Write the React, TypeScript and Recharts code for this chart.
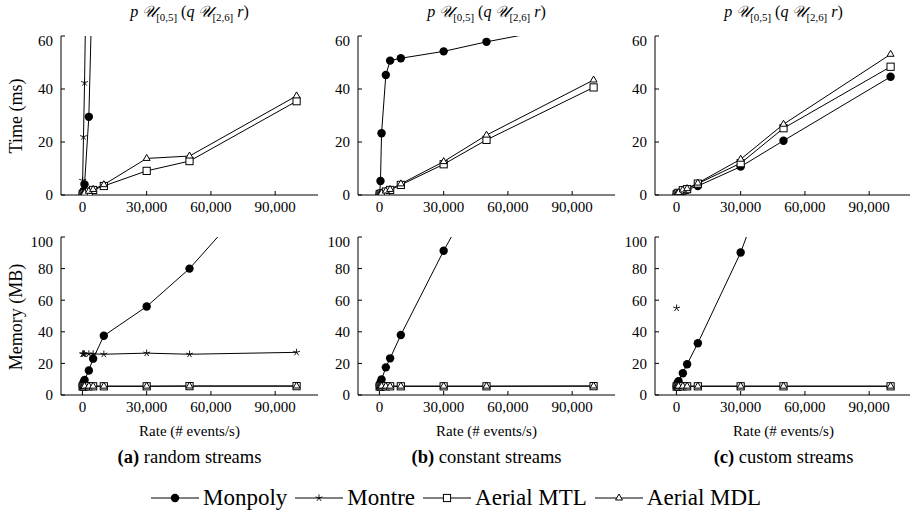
import React from "react";
import { Line, LineChart, XAxis, YAxis } from "recharts";

const rates = [100, 500, 1000, 3000, 5000, 10000, 30000, 50000, 100000];
const rateTicks = [0, 30000, 60000, 90000];
const timeTicks = [0, 20, 40, 60];
const memoryTicks = [0, 20, 40, 60, 80, 100];

// time (ms)
const monpolyTimeRandom = [0.3, 1.5, 4, 29.5, 92, 190, 560, 930, 1850];
const montreTimeRandom = [5.5, 22, 42.4, 150, 260, 520, 1500, 2600, 5200];
const mtlTimeRandom = [0.2, 0.4, 0.6, 1.2, 1.9, 3.4, 9.1, 12.8, 35.4];
const mdlTimeRandom = [0.2, 0.5, 0.7, 1.4, 2.1, 3.9, 13.8, 14.7, 37.4];

const monpolyTimeConstant = [0.4, 5.3, 23.3, 45.3, 50.7, 51.6, 54.2, 57.8, 65.5];
const mtlTimeConstant = [0.2, 0.4, 0.6, 1.3, 1.9, 3.8, 11.6, 20.8, 40.6];
const mdlTimeConstant = [0.2, 0.5, 0.7, 1.5, 2.1, 4.2, 12.6, 22.6, 43.4];

const monpolyTimeCustom = [0.2, 0.4, 0.7, 1.4, 2.0, 3.4, 10.7, 20.5, 44.6];
const mtlTimeCustom = [0.2, 0.5, 0.8, 1.8, 2.2, 4.3, 12.0, 25.2, 48.4];
const mdlTimeCustom = [0.2, 0.6, 0.9, 1.9, 2.4, 4.5, 13.5, 26.7, 53.1];

// memory (MB)
const monpolyMemRandom = [6, 8, 9.5, 15.5, 23, 37.5, 56, 80, 156];
const montreMemRandom = [26, 26, 26, 26, 26, 25.8, 26.5, 25.8, 27];
const mtlMemRandom = [5.4, 5.4, 5.5, 5.5, 5.5, 5.5, 5.5, 5.6, 5.6];
const mdlMemRandom = [5.5, 5.5, 5.6, 5.6, 5.6, 5.6, 5.6, 5.7, 5.7];

const monpolyMemConstant = [6, 8, 9.8, 17.5, 23.2, 38, 91.3, 140, 265];
const mtlMemConstant = [5.4, 5.4, 5.5, 5.5, 5.5, 5.5, 5.5, 5.5, 5.6];
const mdlMemConstant = [5.5, 5.5, 5.6, 5.6, 5.6, 5.6, 5.6, 5.6, 5.7];

const monpolyMemCustom = [5.5, 7.5, 8.8, 13.8, 19.5, 32.8, 90.2, 164, 348];
const montreMemCustom = [55, null, null, null, null, null, null, null, null];
const mtlMemCustom = [5.4, 5.4, 5.5, 5.5, 5.5, 5.5, 5.5, 5.5, 5.5];
const mdlMemCustom = [5.5, 5.5, 5.6, 5.6, 5.6, 5.6, 5.6, 5.6, 5.6];

const SERIF = "Liberation Serif, Times New Roman, Times, DejaVu Serif, serif";
const PW = 257;
const YW = 44;

type Num = number | null;

function rows(mon: Num[] | null, mont: Num[] | null, mtl: Num[], mdl: Num[]) {
  return rates.map((x, i) => ({
    x,
    monpoly: mon ? mon[i] : null,
    montre: mont ? mont[i] : null,
    mtl: mtl[i],
    mdl: mdl[i],
  }));
}

const fmt = (v: number) => v.toLocaleString("en-US");

const CircleDot = (p: any) => {
  if (p.cx == null || p.cy == null || p.value == null) return <g key={`c${p.index}`} />;
  return <circle key={`c${p.index}`} cx={p.cx} cy={p.cy} r={4.2} fill="#000" />;
};

const StarDot = (p: any) => {
  if (p.cx == null || p.cy == null || p.value == null) return <g key={`s${p.index}`} />;
  const r = 3.6;
  const arms = [0, 1, 2, 3, 4].map((k) => {
    const a = -Math.PI / 2 + (k * 2 * Math.PI) / 5;
    return (
      <line key={k} x1={p.cx} y1={p.cy} x2={p.cx + r * Math.cos(a)} y2={p.cy + r * Math.sin(a)} stroke="#000" strokeWidth={0.9} />
    );
  });
  return <g key={`s${p.index}`}>{arms}</g>;
};

const SquareDot = (p: any) => {
  if (p.cx == null || p.cy == null || p.value == null) return <g key={`q${p.index}`} />;
  return <rect key={`q${p.index}`} x={p.cx - 3.6} y={p.cy - 3.6} width={7.2} height={7.2} fill="#fff" stroke="#000" strokeWidth={1} />;
};

const TriangleDot = (p: any) => {
  if (p.cx == null || p.cy == null || p.value == null) return <g key={`t${p.index}`} />;
  const r = 4;
  const pts = `${p.cx},${p.cy - r} ${p.cx + r * 0.866},${p.cy + r * 0.5} ${p.cx - r * 0.866},${p.cy + r * 0.5}`;
  return <polygon key={`t${p.index}`} points={pts} fill="#fff" stroke="#000" strokeWidth={1} />;
};

type PanelProps = {
  data: ReturnType<typeof rows>;
  yMax: number;
  yTicks: number[];
  plotLeft: number;
  plotTop: number;
  plotHeight: number;
};

function Panel({ data, yMax, yTicks, plotLeft, plotTop, plotHeight }: PanelProps) {
  const tick = { fill: "#000", fontSize: 15, fontFamily: SERIF };
  return (
    <div style={{ position: "absolute", left: plotLeft - YW, top: plotTop - 4 }}>
      <LineChart
        width={YW + PW + 4}
        height={4 + plotHeight + 30}
        data={data}
        margin={{ top: 4, right: 4, left: 0, bottom: 0 }}
        style={{ fontFamily: SERIF }}
      >
        <XAxis
          xAxisId="b"
          dataKey="x"
          type="number"
          domain={[-10000, 110000]}
          ticks={rateTicks}
          tickFormatter={fmt}
          allowDataOverflow
          height={30}
          tickSize={-4}
          tickMargin={10}
          stroke="#000"
          tick={tick}
        />
        <XAxis
          xAxisId="t"
          orientation="top"
          dataKey="x"
          type="number"
          domain={[-10000, 110000]}
          ticks={rateTicks}
          tickFormatter={() => ""}
          allowDataOverflow
          height={0}
          tickSize={-4}
          stroke="#000"
        />
        <YAxis
          yAxisId="l"
          type="number"
          domain={[0, yMax]}
          ticks={yTicks}
          allowDataOverflow
          width={YW}
          tickSize={-4}
          tickMargin={12}
          stroke="#000"
          tick={tick}
        />
        <YAxis
          yAxisId="r"
          orientation="right"
          type="number"
          domain={[0, yMax]}
          ticks={yTicks}
          tickFormatter={() => ""}
          allowDataOverflow
          width={0}
          tickSize={-4}
          stroke="#000"
        />
        <Line xAxisId="b" yAxisId="l" type="linear" dataKey="monpoly" stroke="#000" strokeWidth={1} dot={CircleDot} activeDot={false} isAnimationActive={false} />
        <Line xAxisId="b" yAxisId="l" type="linear" dataKey="montre" stroke="#000" strokeWidth={1} dot={StarDot} activeDot={false} isAnimationActive={false} />
        <Line xAxisId="b" yAxisId="l" type="linear" dataKey="mtl" stroke="#000" strokeWidth={1} dot={SquareDot} activeDot={false} isAnimationActive={false} />
        <Line xAxisId="b" yAxisId="l" type="linear" dataKey="mdl" stroke="#000" strokeWidth={1} dot={TriangleDot} activeDot={false} isAnimationActive={false} />
      </LineChart>
    </div>
  );
}

const plotLefts = [61, 358, 655];
const captions = [
  { tag: "(a)", text: "random streams" },
  { tag: "(b)", text: "constant streams" },
  { tag: "(c)", text: "custom streams" },
];

const topData = [
  rows(monpolyTimeRandom, montreTimeRandom, mtlTimeRandom, mdlTimeRandom),
  rows(monpolyTimeConstant, null, mtlTimeConstant, mdlTimeConstant),
  rows(monpolyTimeCustom, null, mtlTimeCustom, mdlTimeCustom),
];
const bottomData = [
  rows(monpolyMemRandom, montreMemRandom, mtlMemRandom, mdlMemRandom),
  rows(monpolyMemConstant, null, mtlMemConstant, mdlMemConstant),
  rows(monpolyMemCustom, montreMemCustom, mtlMemCustom, mdlMemCustom),
];

const subStyle: React.CSSProperties = { fontSize: "0.68em", verticalAlign: "-0.35em", lineHeight: 0 };

function Title({ cx }: { cx: number }) {
  return (
    <div
      style={{
        position: "absolute",
        left: cx,
        top: 3,
        transform: "translateX(-50%)",
        fontSize: 16,
        whiteSpace: "nowrap",
        lineHeight: "18px",
      }}
    >
      <i>p</i> <i style={{ fontWeight: 300 }}>𝒰</i>
      <span style={subStyle}>[0,5]</span> (<i>q</i> <i style={{ fontWeight: 300 }}>𝒰</i>
      <span style={subStyle}>[2,6]</span> <i>r</i>)
    </div>
  );
}

const legendItems = [
  { label: "Monpoly", Dot: CircleDot },
  { label: "Montre", Dot: StarDot },
  { label: "Aerial MTL", Dot: SquareDot },
  { label: "Aerial MDL", Dot: TriangleDot },
];

export default function App() {
  return (
    <div style={{ position: "absolute", left: 0, top: 0, width: 910, height: 516, background: "#fff", overflow: "hidden", fontFamily: SERIF, color: "#000" }}>
      {plotLefts.map((left, i) => (
        <React.Fragment key={i}>
          <Title cx={left + PW / 2} />
          <Panel data={topData[i]} yMax={60} yTicks={timeTicks} plotLeft={left} plotTop={36} plotHeight={159} />
          <Panel data={bottomData[i]} yMax={100} yTicks={memoryTicks} plotLeft={left} plotTop={237} plotHeight={158} />
          <div style={{ position: "absolute", left: left + PW / 2, top: 431, transform: "translate(-50%, -50%)", fontSize: 15, whiteSpace: "nowrap" }}>
            Rate (# events/s)
          </div>
          <div style={{ position: "absolute", left: left + PW / 2, top: 457, transform: "translate(-50%, -50%)", fontSize: 18.5, whiteSpace: "nowrap" }}>
            <b>{captions[i].tag}</b> {captions[i].text}
          </div>
        </React.Fragment>
      ))}
      <div style={{ position: "absolute", left: 16, top: 116, transform: "translate(-50%, -50%) rotate(-90deg)", fontSize: 18, whiteSpace: "nowrap" }}>
        Time (ms)
      </div>
      <div style={{ position: "absolute", left: 16, top: 317, transform: "translate(-50%, -50%) rotate(-90deg)", fontSize: 18, whiteSpace: "nowrap" }}>
        Memory (MB)
      </div>
      <div style={{ position: "absolute", left: 151, top: 498, transform: "translateY(-50%)", display: "flex", fontSize: 23, lineHeight: "26px" }}>
        {legendItems.map(({ label, Dot }) => (
          <div key={label} style={{ display: "flex", alignItems: "center", marginRight: 8 }}>
            <svg width={48} height={24}>
              <line x1={0} y1={12} x2={48} y2={12} stroke="#000" strokeWidth={1} />
              {Dot({ cx: 24, cy: 12, value: 1, index: 0 })}
            </svg>
            <span style={{ marginLeft: 4 }}>{label}</span>
          </div>
        ))}
      </div>
    </div>
  );
}
